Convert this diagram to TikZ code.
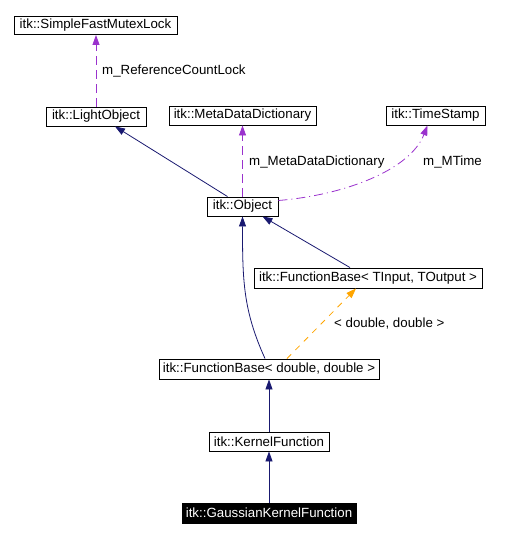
\documentclass[tikz,border=0pt]{standalone}
\usepackage{fontspec}
\setmainfont{Liberation Sans}
\usetikzlibrary{arrows.meta,calc}
\definecolor{inhcol}{HTML}{191970}
\definecolor{memcol}{HTML}{9A32CD}
\definecolor{tplcol}{HTML}{FFA500}
\begin{document}
\begin{tikzpicture}[x=1pt,y=-1pt,
  every node/.style={font=\fontsize{13.3}{16}\selectfont},
  box/.style={draw=black, line width=0.9pt, inner sep=0pt, minimum height=19pt, fill=white},
  lbl/.style={anchor=west, inner sep=0pt},
  inh/.style={draw=inhcol, line width=0.8pt, -{Triangle[length=10pt,width=7pt]}},
  mem/.style={draw=memcol, line width=0.8pt, dash pattern=on 9pt off 5pt, -{Triangle[length=10pt,width=7pt]}},
  tpl/.style={draw=tplcol, line width=0.8pt, dash pattern=on 6pt off 6pt, -{Triangle[length=10pt,width=7pt]}}]
\useasboundingbox (0,0) rectangle (518,537);
\node[box, minimum width=163pt, minimum height=18pt] (sfml) at (95.5,25.5) {itk::SimpleFastMutexLock};
\node[box, minimum width=100pt] (light) at (96,116.5) {itk::LightObject};
\node[box, minimum width=147pt] (meta) at (242.5,115.5) {itk::MetaDataDictionary};
\node[box, minimum width=99pt] (ts) at (435.5,115.5) {itk::TimeStamp};
\node[box, minimum width=71pt] (obj) at (242.5,206.5) {itk::Object};
\node[box, minimum width=228pt, minimum height=20pt] (fbt) at (368,278) {itk::FunctionBase< TInput, TOutput >};
\node[box, minimum width=220pt, minimum height=20pt] (fbd) at (269,369) {itk::FunctionBase< double, double >};
\node[box, minimum width=120pt] (kf) at (269,441.5) {itk::KernelFunction};
\node[box, minimum width=174pt, minimum height=20pt, fill=black, text=white] (gkf) at (269,513) {itk::GaussianKernelFunction};

\draw[mem] (light.north) -- (light.north |- sfml.south);
\draw[inh] ($(obj.north)+(-15,0)$) -- ($(light.south)+(19,0)$);
\draw[mem] (obj.north) -- (meta.south);
\draw[mem, dash pattern=on 9pt off 4pt on 1pt off 4pt] ($(obj.east)+(0,-6)$) .. controls (345,195) and (410,170) .. ($(ts.south)+(-8,0)$);
\draw[inh] ($(fbt.north)+(-18,0)$) -- ($(obj.south)+(20,0)$);
\draw[inh] ($(fbd.north)+(-4,0)$) .. controls (243,310) and (242.5,280) .. (obj.south);
\draw[tpl] ($(fbd.north)+(18,0)$) -- ($(fbt.south)+(-12,0)$);
\draw[inh] (kf.north) -- (fbd.south);
\draw[inh] (gkf.north) -- (kf.south);

\node[lbl] (l1) at (102,71) {m\_ReferenceCountLock};
\node[lbl] (l2) at (249,162) {m\_MetaDataDictionary};
\node[lbl] (l3) at (423,162) {m\_MTime};
\node[lbl] (l4) at (334,324) {< double, double >};
\end{tikzpicture}
\end{document}
